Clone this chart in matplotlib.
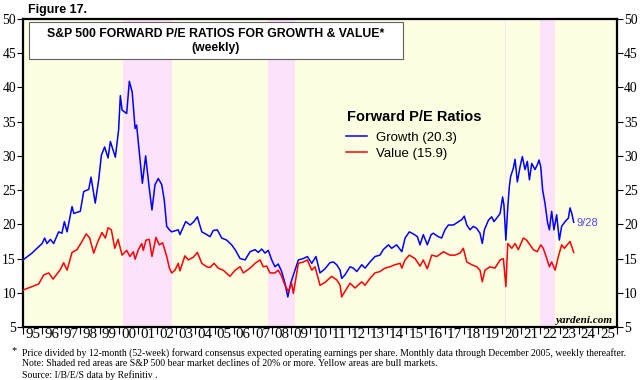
"""S&P 500 forward P/E ratios for growth & value (weekly)."""

import matplotlib
matplotlib.use("Agg")

import matplotlib.pyplot as plt
from matplotlib.patches import Rectangle

# decimal years and forward P/E values
growth_dates = [
    1995.00, 1995.47, 1995.73, 1996.00, 1996.13, 1996.25, 1996.43, 1996.60, 1996.86,
    1997.03, 1997.16, 1997.30, 1997.56, 1997.65, 1997.99, 1998.17, 1998.43, 1998.55,
    1998.77, 1998.95, 1999.09, 1999.26, 1999.44, 1999.56, 1999.82, 1999.99, 2000.08,
    2000.17, 2000.41, 2000.55, 2000.70, 2000.85, 2000.93, 2001.07, 2001.23, 2001.40,
    2001.58, 2001.73, 2001.89, 2002.06, 2002.24, 2002.37, 2002.50, 2002.64, 2002.76,
    2003.10, 2003.19, 2003.49, 2003.72, 2003.92, 2004.10, 2004.33, 2004.59, 2004.76,
    2004.93, 2005.14, 2005.37, 2005.63, 2005.89, 2006.07, 2006.33, 2006.59, 2006.85,
    2007.11, 2007.28, 2007.46, 2007.63, 2007.80, 2007.98, 2008.15, 2008.32, 2008.50,
    2008.67, 2008.82, 2008.97, 2009.11, 2009.37, 2009.63, 2009.84, 2010.07, 2010.29,
    2010.50, 2010.76, 2011.02, 2011.20, 2011.37, 2011.55, 2011.63, 2011.80, 2012.07,
    2012.24, 2012.42, 2012.68, 2012.85, 2013.11, 2013.37, 2013.63, 2013.80, 2014.07,
    2014.24, 2014.50, 2014.77, 2014.94, 2015.16, 2015.37, 2015.58, 2015.72, 2015.89,
    2016.10, 2016.30, 2016.41, 2016.67, 2016.85, 2017.02, 2017.20, 2017.46, 2017.63,
    2017.90, 2018.03, 2018.16, 2018.33, 2018.50, 2018.68, 2018.85, 2018.97, 2019.08,
    2019.29, 2019.46, 2019.58, 2019.72, 2019.90, 2020.03, 2020.10, 2020.20, 2020.30,
    2020.38, 2020.45, 2020.59, 2020.68, 2020.80, 2020.94, 2021.06, 2021.20, 2021.32,
    2021.43, 2021.55, 2021.72, 2021.84, 2021.93, 2022.02, 2022.12, 2022.24, 2022.38,
    2022.47, 2022.59, 2022.71, 2022.85, 2022.99, 2023.11, 2023.29, 2023.46, 2023.55,
    2023.64, 2023.74,
]
growth_pe = [
    14.8, 15.8, 16.5, 17.2, 18.0, 17.2, 17.8, 17.2, 18.9,
    18.7, 20.4, 18.9, 22.6, 21.6, 21.9, 24.8, 25.1, 26.9,
    23.1, 26.5, 30.1, 31.3, 29.7, 32.1, 29.8, 33.8, 38.8,
    36.7, 36.2, 40.9, 39.3, 34.0, 34.5, 30.6, 26.0, 30.0,
    25.5, 22.1, 25.8, 26.7, 25.8, 23.6, 19.7, 19.2, 18.9,
    19.2, 18.5, 20.4, 19.9, 20.4, 21.1, 18.9, 18.5, 18.2,
    19.1, 19.2, 18.0, 17.7, 17.0, 16.3, 15.0, 14.8, 16.0,
    16.3, 15.9, 16.4, 15.8, 16.2, 14.8, 13.8, 14.2, 13.1,
    11.4, 9.4, 11.4, 12.6, 14.8, 15.0, 15.3, 14.3, 15.3,
    12.9, 13.5, 14.4, 14.5, 14.1, 13.3, 12.1, 12.6, 13.8,
    13.6, 13.1, 14.1, 13.6, 14.5, 15.3, 15.5, 16.3, 17.0,
    16.5, 17.0, 16.0, 18.0, 18.9, 18.6, 18.2, 17.0, 18.5,
    17.0, 18.5, 18.7, 18.2, 18.0, 19.2, 19.9, 19.9, 20.2,
    20.7, 21.2, 19.9, 19.2, 19.7, 19.4, 18.7, 17.2, 19.2,
    20.6, 21.1, 20.4, 20.9, 21.6, 24.0, 22.8, 17.7, 22.5,
    25.5, 27.0, 28.2, 29.5, 26.2, 28.4, 29.9, 28.0, 29.2,
    26.5, 28.9, 28.0, 28.7, 29.4, 28.4, 25.0, 23.1, 20.2,
    19.2, 21.9, 19.2, 21.4, 17.7, 19.7, 20.4, 20.9, 22.4,
    21.6, 20.3,
]

value_dates = [
    1995.00, 1995.47, 1995.82, 1996.08, 1996.34, 1996.57, 1996.95, 1997.12, 1997.30,
    1997.56, 1997.82, 1998.08, 1998.30, 1998.48, 1998.69, 1998.91, 1999.12, 1999.30,
    1999.44, 1999.61, 1999.79, 1999.96, 2000.17, 2000.41, 2000.58, 2000.76, 2000.85,
    2001.02, 2001.20, 2001.28, 2001.42, 2001.59, 2001.73, 2001.94, 2002.11, 2002.29,
    2002.50, 2002.64, 2002.76, 2002.93, 2003.10, 2003.19, 2003.45, 2003.63, 2003.89,
    2004.10, 2004.33, 2004.59, 2004.76, 2004.97, 2005.19, 2005.45, 2005.80, 2006.07,
    2006.33, 2006.50, 2006.85, 2007.11, 2007.37, 2007.54, 2007.72, 2007.89, 2008.15,
    2008.32, 2008.50, 2008.67, 2008.85, 2009.02, 2009.11, 2009.37, 2009.63, 2009.84,
    2010.07, 2010.24, 2010.50, 2010.76, 2011.10, 2011.37, 2011.55, 2011.63, 2011.80,
    2012.07, 2012.33, 2012.68, 2012.85, 2013.11, 2013.37, 2013.63, 2013.89, 2014.15,
    2014.41, 2014.68, 2014.77, 2014.94, 2015.16, 2015.46, 2015.72, 2015.89, 2016.10,
    2016.33, 2016.60, 2016.94, 2017.28, 2017.55, 2017.81, 2017.98, 2018.16, 2018.42,
    2018.68, 2018.85, 2018.97, 2019.11, 2019.37, 2019.63, 2019.90, 2020.07, 2020.20,
    2020.30, 2020.51, 2020.68, 2020.85, 2021.11, 2021.28, 2021.46, 2021.63, 2021.84,
    2022.02, 2022.15, 2022.30, 2022.47, 2022.59, 2022.77, 2022.94, 2023.11, 2023.25,
    2023.40, 2023.55, 2023.74,
]
value_pe = [
    10.4, 10.9, 11.3, 12.6, 12.9, 12.0, 13.4, 14.4, 13.3,
    15.9, 16.3, 17.5, 18.6, 18.0, 15.8, 17.5, 18.8, 18.0,
    19.5, 19.2, 16.5, 17.8, 15.5, 16.2, 15.3, 16.0, 14.9,
    16.3, 17.2, 16.2, 17.7, 17.8, 15.3, 18.1, 17.0, 17.3,
    15.3, 13.6, 12.9, 13.3, 14.3, 13.2, 15.4, 14.8, 15.2,
    15.9, 14.3, 13.8, 13.7, 14.3, 13.6, 13.3, 12.4, 13.3,
    13.8, 12.9, 13.6, 14.3, 14.8, 13.8, 13.9, 12.9, 12.9,
    13.3, 12.4, 11.1, 10.2, 11.4, 9.9, 14.3, 14.5, 14.8,
    13.3, 13.8, 11.1, 11.5, 12.4, 11.9, 11.1, 9.4, 10.2,
    11.4, 10.7, 11.6, 11.1, 12.1, 12.9, 13.1, 13.6, 13.8,
    14.1, 14.3, 13.6, 14.8, 15.5, 15.0, 13.9, 14.8, 13.5,
    15.5, 15.3, 16.0, 15.5, 15.5, 15.8, 16.5, 14.5, 14.1,
    13.8, 13.3, 11.6, 13.3, 13.8, 13.6, 14.8, 15.0, 10.9,
    17.2, 16.5, 17.2, 16.3, 18.0, 17.7, 17.0, 16.3, 16.0,
    17.0, 16.5, 15.3, 13.8, 14.5, 13.3, 15.3, 17.0, 16.5,
    17.0, 17.5, 15.9,
]

# S&P 500 bear markets (start, end) in decimal years
bear_starts = [2000.23, 2007.77, 2020.13, 2022.00]
bear_ends = [2002.77, 2009.18, 2020.23, 2022.78]

year_labels = [f"{y % 100:02d}" for y in range(1995, 2026)]
y_ticks = list(range(5, 51, 5))

SANS = "Liberation Sans"
SERIF = "Liberation Serif"


def draw() -> None:
    plt.rcParams["font.family"] = SERIF
    fig = plt.figure(figsize=(6.4, 3.8), dpi=100)
    ax = fig.add_axes([23 / 640, 1 - 327 / 380, 594 / 640, 308 / 380])
    ax.set_facecolor("#fefee3")

    for s, e in zip(bear_starts, bear_ends):
        ax.axvspan(s, e, color="#fce3fb", lw=0, zorder=0)

    ax.plot(growth_dates, growth_pe, color="#0000ff", lw=1.1, zorder=3,
            label="Growth (20.3)")
    ax.plot(value_dates, value_pe, color="#ff0000", lw=1.1, zorder=3,
            label="Value (15.9)")

    ax.set_xlim(1995, 2026)
    ax.set_ylim(5, 50)

    ax.set_xticks(range(1995, 2027))
    ax.set_xticklabels([])
    ax.set_xticks([y + 0.5 for y in range(1995, 2026)], minor=True)
    ax.set_xticklabels(year_labels, minor=True, fontsize=10.8)
    ax.tick_params(axis="x", which="major", direction="out", length=5, width=0.8)
    ax.tick_params(axis="x", which="minor", length=0, pad=1)

    ax.set_yticks(y_ticks)
    ax.tick_params(axis="y", direction="out", length=4, width=0.8, pad=1,
                   labelsize=9.8, left=True, right=True, labelleft=True, labelright=True)
    for sp in ax.spines.values():
        sp.set_linewidth(1.6)

    # title box
    ax.add_patch(Rectangle((0.010, 0.870), 0.630, 0.120, transform=ax.transAxes,
                           facecolor="white", edgecolor="#606060", lw=0.8, zorder=5))
    ax.text(0.325, 0.951, "S&P 500 FORWARD P/E RATIOS FOR GROWTH & VALUE*",
            transform=ax.transAxes, ha="center", va="center", fontsize=8.8,
            fontweight="bold", family=SANS, zorder=6)
    ax.text(0.325, 0.906, "(weekly)", transform=ax.transAxes, ha="center",
            va="center", fontsize=8.8, fontweight="bold", family=SANS, zorder=6)

    # legend
    ax.text(0.5449, 0.683, "Forward P/E Ratios", transform=ax.transAxes,
            ha="left", va="center", fontsize=10.5, fontweight="bold", family=SANS)
    ax.legend(loc="upper left", bbox_to_anchor=(0.5438, 0.634), frameon=False,
              prop={"family": SANS, "size": 9.5},
              handlelength=1.6, handletextpad=0.65, labelspacing=0.28,
              borderpad=0, borderaxespad=0)

    ax.text(growth_dates[-1] + 0.15, 20.2, "9/28", color="#4a4aff", fontsize=8,
            family=SANS, ha="left", va="center")
    ax.text(0.992, 0.021, "yardeni.com", transform=ax.transAxes, ha="right",
            va="center", fontsize=8, fontweight="bold", style="italic")

    fig.text(28 / 640, 1 - 10 / 380, "Figure 17.", fontsize=9, fontweight="bold",
             family=SANS, ha="left", va="center")

    fig.text(11 / 640, 1 - 351 / 380, "*", fontsize=7.5, ha="left", va="center")
    notes = [
        "Price divided by 12-month (52-week) forward consensus expected operating earnings per share. "
        "Monthly data through December 2005, weekly thereafter.",
        "Note: Shaded red areas are S&P 500 bear market declines of 20% or more. Yellow areas are bull markets.",
        "Source: I/B/E/S data by Refinitiv .",
    ]
    for i, line in enumerate(notes):
        fig.text(22.5 / 640, 1 - (353 + 11 * i) / 380, line, fontsize=7.05,
                 ha="left", va="center")

    fig.savefig("out.png", dpi=100)
    plt.close(fig)


def main() -> None:
    draw()


if __name__ == "__main__":
    main()
